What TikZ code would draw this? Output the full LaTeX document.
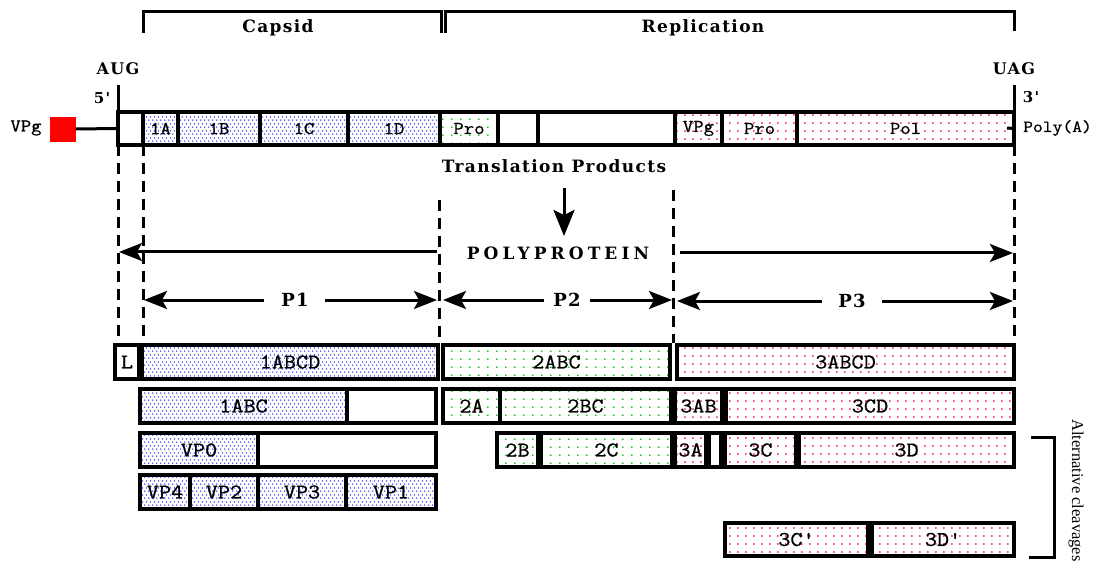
\documentclass[tikz,border=0pt]{standalone}
\usepackage{fontspec}
\setmainfont{DejaVu Serif}
\newfontfamily\ttlfont{DejaVu Serif}[LetterSpace=8]
\newfontfamily\widefont{DejaVu Serif}[LetterSpace=24]
\newfontfamily\lblfont{Latin Modern Mono}[FakeStretch=1.12,FakeBold=0.8]
\newfontfamily\sidefont{Liberation Serif}
\usetikzlibrary{arrows.meta,patterns}

\definecolor{dblue}{RGB}{30,30,255}
\definecolor{dgreen}{RGB}{0,200,0}
\definecolor{dpink}{RGB}{255,20,100}

\pgfdeclarepatternformonly{bdots}{\pgfpointorigin}{\pgfpoint{4pt}{7pt}}{\pgfpoint{4pt}{7pt}}{%
  \pgfpathcircle{\pgfpoint{1pt}{1pt}}{0.85pt}%
  \pgfpathcircle{\pgfpoint{3pt}{4.5pt}}{0.85pt}%
  \pgfusepath{fill}}
\pgfdeclarepatternformonly{gdots}{\pgfpointorigin}{\pgfpoint{9pt}{8pt}}{\pgfpoint{9pt}{8pt}}{%
  \pgfpathcircle{\pgfpoint{2pt}{2pt}}{1.05pt}\pgfusepath{fill}}
\pgfdeclarepatternformonly{pdots}{\pgfpointorigin}{\pgfpoint{7.5pt}{7.5pt}}{\pgfpoint{7.5pt}{7.5pt}}{%
  \pgfpathcircle{\pgfpoint{2pt}{2pt}}{1.05pt}\pgfusepath{fill}}

\tikzset{
  seg/.style={draw=black, line width=3.3pt, rectangle, inner sep=0pt, outer sep=0pt,
    font=\lblfont\fontsize{21}{23}\selectfont},
  gl/.style={font=\lblfont\fontsize{18}{20}\selectfont},
  wht/.style={fill=white},
  blu/.style={pattern=bdots, pattern color=dblue},
  grn/.style={pattern=gdots, pattern color=dgreen},
  pnk/.style={pattern=pdots, pattern color=dpink},
  ttl/.style={font=\ttlfont\bfseries\fontsize{17}{20}\selectfont, inner sep=0pt},
  thk/.style={line width=3pt},
  dsh/.style={line width=3pt, dash pattern=on 11pt off 7pt},
  arr/.style={line width=3pt, -{Stealth[length=23pt,width=18pt,inset=5pt]}},
  darr/.style={line width=3pt, -{Stealth[length=26pt,width=21pt,inset=5pt]}},
}
\newcommand\segbox[7]{\node[seg,#6,minimum width={(#4-#2)*1pt},minimum height={(#5-#3)*1pt}] (#1) at ({(#2+#4)/2},{(#3+#5)/2}) {#7};}

\begin{document}
\begin{tikzpicture}[x=1pt,y=-1pt]
\useasboundingbox[fill=white] (0,0) rectangle (1097,569);

% brackets on top
\coordinate (capL) at (143,33);
\coordinate (capR) at (441,33);
\coordinate (repL) at (445,33);
\coordinate (repR) at (1014,31);
\draw[thk] (capL) |- (292,12) -| (capR);
\draw[thk] (repL) |- (730,12) -| (repR);
\node[ttl] (capsid) at (278,28) {Capsid};
\node[ttl] (repl) at (703,28) {Replication};

% ends
\node[ttl,font=\ttlfont\bfseries\fontsize{16}{19}\selectfont] (aug) at (118,69) {AUG};
\node[ttl,font=\ttlfont\bfseries\fontsize{16}{19}\selectfont] (uag) at (1014,69) {UAG};
\node[ttl,font=\ttlfont\bfseries\fontsize{15}{18}\selectfont] (five) at (102,98) {5'};
\node[ttl,font=\ttlfont\bfseries\fontsize{15}{18}\selectfont] (three) at (1031,97) {3'};
\coordinate (top5) at (118,85);
\coordinate (top3) at (1014,85);

% genome bar
\segbox{g0}{118}{112}{143}{145}{wht}{}
\segbox{g1A}{143}{112}{178}{145}{blu,gl}{1A}
\segbox{g1B}{178}{112}{260}{145}{blu,gl}{1B}
\segbox{g1C}{260}{112}{348}{145}{blu,gl}{1C}
\segbox{g1D}{348}{112}{440}{145}{blu,gl}{1D}
\segbox{g2P}{440}{112}{498}{145}{grn,gl}{Pro}
\segbox{g2B}{498}{112}{538}{145}{wht}{}
\segbox{g2C}{538}{112}{675}{145}{wht}{}
\segbox{g3V}{675}{112}{722}{145}{pnk,gl}{VPg}
\segbox{g3P}{722}{112}{797}{145}{pnk,gl}{Pro}
\segbox{gPol}{797}{112}{1014}{145}{pnk,gl}{Pol}
\draw[thk] (top5) -- (g0.south west);
\draw[thk] (top3) -- (gPol.south east);

\node[fill=red, draw=red, minimum width=25pt, minimum height=24pt, inner sep=0pt] (red) at (63,129) {};
\node[font=\lblfont\fontsize{18}{20}\selectfont, inner sep=0pt] (vpg) at (26,128) {VPg};
\draw[thk] (red.east) -- (g0.west);
\node[font=\lblfont\fontsize{17}{19}\selectfont, inner sep=0pt, inner xsep=8pt, anchor=west] (polya) at (1015,128) {Poly(A)};
\draw[thk] (gPol.east) -- ([xshift=-8pt]polya.west);

% translation products
\node[ttl] (tp) at (554,166) {Translation Products};
\coordinate (dnA) at (564,188);
\coordinate (dnB) at (564,236);
\draw[darr] (dnA) -- (dnB);
\node[font=\widefont\bfseries\fontsize{17}{20}\selectfont, inner sep=0pt] (poly) at (558,253) {POLYPROTEIN};

% dashed guides
\coordinate (d3a) at (439,200);
\coordinate (d4a) at (673,190);
\coordinate (d1b) at (118,343);
\coordinate (d2b) at (143,343);
\coordinate (d3b) at (439,343);
\coordinate (d4b) at (673,343);
\coordinate (d5b) at (1014,343);
\draw[dsh] (g0.south west) -- (d1b);
\draw[dsh] (g1A.south west) -- (d2b);
\draw[dsh] (d3a) -- (d3b);
\draw[dsh] (d4a) -- (d4b);
\draw[dsh] (gPol.south east) -- (d5b);

% polyprotein arrows
\coordinate (ppLs) at (437,252);
\coordinate (ppLe) at (119,252);
\coordinate (ppRs) at (680,253);
\coordinate (ppRe) at (1013,253);
\draw[arr] (ppLs) -- (ppLe);
\draw[arr] (ppRs) -- (ppRe);

% P1 P2 P3
\node[ttl,font=\ttlfont\bfseries\fontsize{18}{20}\selectfont] (p1) at (295,300) {P1};
\node[ttl,font=\ttlfont\bfseries\fontsize{18}{20}\selectfont] (p2) at (567,300) {P2};
\node[ttl,font=\ttlfont\bfseries\fontsize{18}{20}\selectfont] (p3) at (852,301) {P3};
\coordinate (p1a) at (264,300); \coordinate (p1ae) at (144,300);
\coordinate (p1b) at (325,300); \coordinate (p1be) at (437,300);
\coordinate (p2a) at (544,300); \coordinate (p2ae) at (443,300);
\coordinate (p2b) at (590,300); \coordinate (p2be) at (672,300);
\coordinate (p3a) at (822,301); \coordinate (p3ae) at (677,301);
\coordinate (p3b) at (882,301); \coordinate (p3be) at (1013,301);
\draw[arr] (p1a) -- (p1ae);
\draw[arr] (p1b) -- (p1be);
\draw[arr] (p2a) -- (p2ae);
\draw[arr] (p2b) -- (p2be);
\draw[arr] (p3a) -- (p3ae);
\draw[arr] (p3b) -- (p3be);

% row 1
\segbox{rL}{115}{345}{139}{379}{wht}{L}
\segbox{r1ABCD}{142}{345}{438}{379}{blu}{1ABCD}
\segbox{r2ABC}{443}{345}{670}{379}{grn}{2ABC}
\segbox{r3ABCD}{677}{345}{1014}{379}{pnk}{3ABCD}
% row 2
\segbox{r1ABC}{140}{389}{347}{423}{blu}{1ABC}
\segbox{r1x}{347}{389}{436}{423}{wht}{}
\segbox{r2A}{443}{389}{500}{423}{grn}{2A}
\segbox{r2BC}{500}{389}{671}{423}{grn}{2BC}
\segbox{r3AB}{675}{389}{722}{423}{pnk}{3AB}
\segbox{r3CD}{726}{389}{1014}{423}{pnk}{3CD}
% row 3
\segbox{rVP0}{140}{433}{258}{467}{blu}{VP0}
\segbox{r0x}{258}{433}{436}{467}{wht}{}
\segbox{r2B}{497}{433}{538}{467}{grn}{2B}
\segbox{r2C}{541}{433}{672}{467}{grn}{2C}
\segbox{r3A}{675}{433}{706}{467}{pnk}{3A}
\segbox{r3Bx}{709}{433}{721}{467}{wht}{}
\segbox{r3C}{725}{433}{796}{467}{pnk}{3C}
\segbox{r3D}{799}{433}{1014}{467}{pnk}{3D}
% row 4
\segbox{rVP4}{140}{475}{190}{509}{blu}{VP4}
\segbox{rVP2}{190}{475}{258}{509}{blu}{VP2}
\segbox{rVP3}{258}{475}{346}{509}{blu}{VP3}
\segbox{rVP1}{346}{475}{436}{509}{blu}{VP1}
% row 5
\segbox{r3Cp}{725}{523}{868}{556}{pnk}{3C'}
\segbox{r3Dp}{872}{523}{1014}{556}{pnk}{3D'}

% alternative cleavages bracket
\coordinate (acA) at (1031,437);
\coordinate (acB) at (1029,557);
\draw[thk] (acA) -| (1054,497) |- (acB);
\node[font=\sidefont\fontsize{16.5}{19}\selectfont, inner sep=0pt, rotate=-90, anchor=west] (alt) at (1076,419) {Alternative cleavages};
\end{tikzpicture}
\end{document}
